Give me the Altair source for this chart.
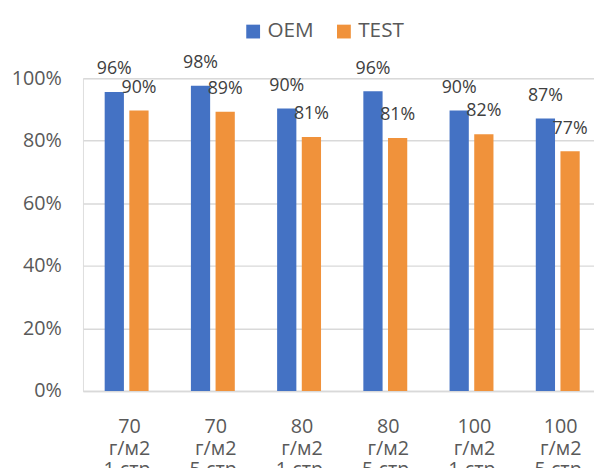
import altair as alt
import pandas as pd

categories = ["70\nг/м2\n1 стр.", "70\nг/м2\n5 стр.", "80\nг/м2\n1 стр.",
              "80\nг/м2\n5 стр.", "100\nг/м2\n1 стр.", "100\nг/м2\n5 стр."]
series = ["OEM", "TEST"]
oem = [0.956, 0.976, 0.903, 0.958, 0.897, 0.871]
test = [0.897, 0.893, 0.812, 0.809, 0.821, 0.766]

rows = []
for c, a, b in zip(categories, oem, test):
    rows.append({"cat": c, "series": "OEM", "value": a})
    rows.append({"cat": c, "series": "TEST", "value": b})
df = pd.DataFrame(rows)

FONT = "Open Sans"

x = alt.X("cat:N", sort=categories, title=None,
          scale=alt.Scale(paddingInner=0.4908, paddingOuter=0.2088, align=0.6027),
          axis=alt.Axis(labelAngle=0, labelExpr="split(datum.label, '\\n')",
                        labelFontSize=20, labelColor="#595959", labelFont=FONT,
                        labelLineHeight=22, labelPadding=26, ticks=False, tickSize=0,
                        domainColor="#d9d9d9", domainWidth=1.5, grid=False,
                        labelBaseline="top", labelOffset=3))
xo = alt.XOffset("series:N", sort=series,
                 scale=alt.Scale(paddingInner=0.22, paddingOuter=0))
y = alt.Y("value:Q", title=None,
          scale=alt.Scale(domain=[0, 1], nice=False),
          axis=alt.Axis(format=".0%", values=[0, 0.2, 0.4, 0.6, 0.8, 1.0],
                        labelFontSize=20, labelColor="#595959", labelFont=FONT,
                        labelPadding=22, ticks=False, domain=False,
                        gridColor="#d9d9d9", gridWidth=1.5))

bars = alt.Chart(df).mark_bar().encode(
    x=x, xOffset=xo, y=y,
    color=alt.Color("series:N", sort=series, title=None,
                    scale=alt.Scale(domain=series, range=["#4472C4", "#F0923B"]),
                    legend=alt.Legend(orient="none", legendX=162, legendY=-58,
                                      direction="horizontal", symbolType="square",
                                      symbolSize=196, symbolStrokeWidth=0,
                                      labelFontSize=21, labelFont=FONT,
                                      labelColor="#595959", labelOffset=4,
                                      columnPadding=20, padding=0)),
)

labels = alt.Chart(df).mark_text(fontSize=18, font=FONT, color="#404040",
                                 baseline="middle", dy=-23).encode(
    x=alt.X("cat:N", sort=categories), xOffset=alt.XOffset("series:N", sort=series),
    y="value:Q", text=alt.Text("value:Q", format=".0%"),
)

chart = (bars + labels).properties(
    width=518, height=317,
    autosize=alt.AutoSizeParams(type="none"),
    padding={"left": 76, "top": 68, "right": 0, "bottom": 75},
).configure_view(stroke=None).configure(background="white")

chart.save("out.html", embed_options={"renderer": "svg", "actions": False})
